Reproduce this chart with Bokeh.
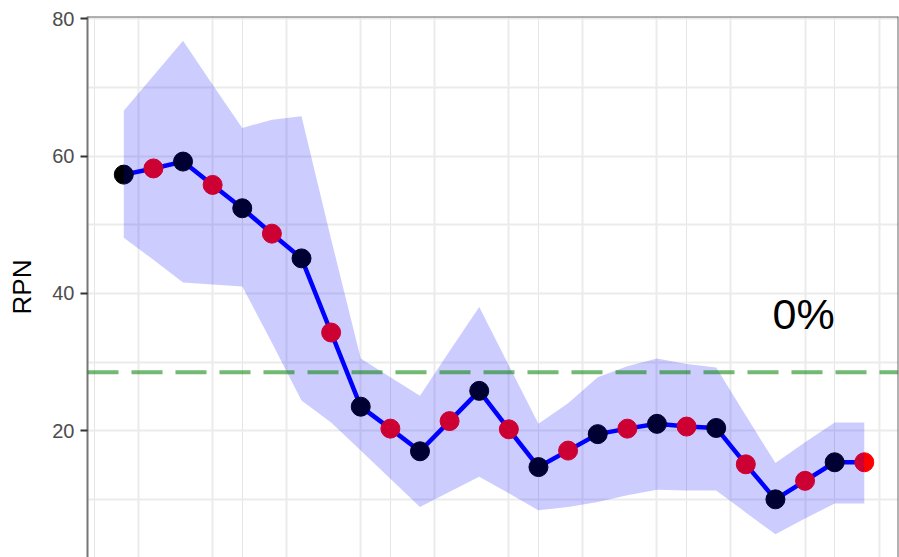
from bokeh.plotting import figure
from bokeh.models import Range1d, FixedTicker, Grid, Span, Label, ColumnDataSource
from bokeh.embed import file_html
from bokeh.resources import INLINE

# ---- data ----
period = list(range(1, 27))
rpn = [57.3, 58.2, 59.2, 55.8, 52.4, 48.7, 45.1, 34.3, 23.5, 20.3, 17.0, 21.4, 25.8,
       20.2, 14.7, 17.1, 19.5, 20.3, 21.0, 20.6, 20.4, 15.1, 10.0, 12.7, 15.4, 15.4]
upper = [66.6, 71.7, 76.8, 70.4, 64.1, 65.3, 65.8, 47.9, 30.5, 27.8, 25.1, 31.6, 38.0,
         29.5, 21.0, 24.0, 27.8, 29.4, 30.5, 29.7, 29.2, 22.2, 15.3, 18.3, 21.2, 21.2]
lower = [48.1, 44.9, 41.6, 41.3, 41.0, 32.8, 24.4, 21.2, 17.1, 13.0, 8.9, 11.1, 13.3,
         10.9, 8.4, 8.9, 9.6, 10.6, 11.4, 11.3, 11.3, 8.1, 4.9, 7.2, 9.4, 9.4]
point_colors = ["black" if i % 2 == 0 else "red" for i in range(len(period))]
threshold = 28.5
annotation_text = "0%"
annotation_x = 23.95
annotation_y = 37.0
y_ticks = [20, 40, 60, 80]
y_minor = [10, 30, 50, 70]
x_grid = [1.5 + 2.5 * k for k in range(11)]
x_lo, x_hi = -0.225, 27.155
y_lo, y_hi = 1.53, 80.33

src = ColumnDataSource(dict(x=period, y=rpn, up=upper, lo=lower, c=point_colors))

p = figure(width=899, height=557, output_backend="svg", toolbar_location=None,
           x_range=Range1d(x_lo, x_hi), y_range=Range1d(y_lo, y_hi),
           x_axis_location=None,
           min_border_left=87, min_border_right=1, min_border_top=16, min_border_bottom=0)
p.background_fill_color = "white"
p.border_fill_color = "white"
p.outline_line_color = None

# y axis
yax = p.yaxis[0]
yax.ticker = FixedTicker(ticks=y_ticks, minor_ticks=y_minor)
yax.axis_label = "RPN"
yax.axis_label_text_font = "Liberation Sans"
yax.axis_label_text_font_size = "26px"
yax.axis_label_text_font_style = "normal"
yax.axis_label_text_color = "black"
yax.axis_label_standoff = 12
yax.major_label_text_font = "Liberation Sans"
yax.major_label_text_font_size = "20px"
yax.major_label_text_color = "#4D4D4D"
yax.major_label_standoff = 6
yax.major_tick_out = 7
yax.major_tick_in = 0
yax.minor_tick_out = 0
yax.minor_tick_in = 0
yax.major_tick_line_color = "#333333"
yax.major_tick_line_width = 2
yax.axis_line_color = "#777777"
yax.axis_line_width = 2

# grids
p.ygrid.grid_line_color = "#EBEBEB"
p.ygrid.grid_line_width = 2
p.ygrid.minor_grid_line_color = "#EBEBEB"
p.ygrid.minor_grid_line_width = 2
xg = Grid(dimension=0, ticker=FixedTicker(ticks=x_grid), grid_line_color="#EBEBEB",
          grid_line_width=2)
p.add_layout(xg)

# line and points
p.line("x", "y", source=src, line_color="blue", line_width=4.5)
p.scatter("x", "y", source=src, size=19, fill_color="c", line_color="c")

# ribbon on top, translucent
p.varea(x="x", y1="lo", y2="up", source=src, fill_color="blue", fill_alpha=0.2)

# threshold dashed line (on top, semi-transparent)
p.add_layout(Span(location=threshold, dimension="width", line_color="green",
                  line_alpha=0.55, line_width=4, line_dash="31 13"))

# panel border: top and right only (bottom is outside the picture)
p.add_layout(Span(location=y_hi, dimension="width", line_color="#666666", line_width=2))
p.add_layout(Span(location=x_hi, dimension="height", line_color="#666666", line_width=2))

p.add_layout(Label(x=annotation_x, y=annotation_y, text=annotation_text,
                   text_align="center", text_baseline="middle",
                   text_font="Liberation Sans", text_font_size="43px",
                   text_color="black"))

open("out.html", "w").write(file_html(p, INLINE))
